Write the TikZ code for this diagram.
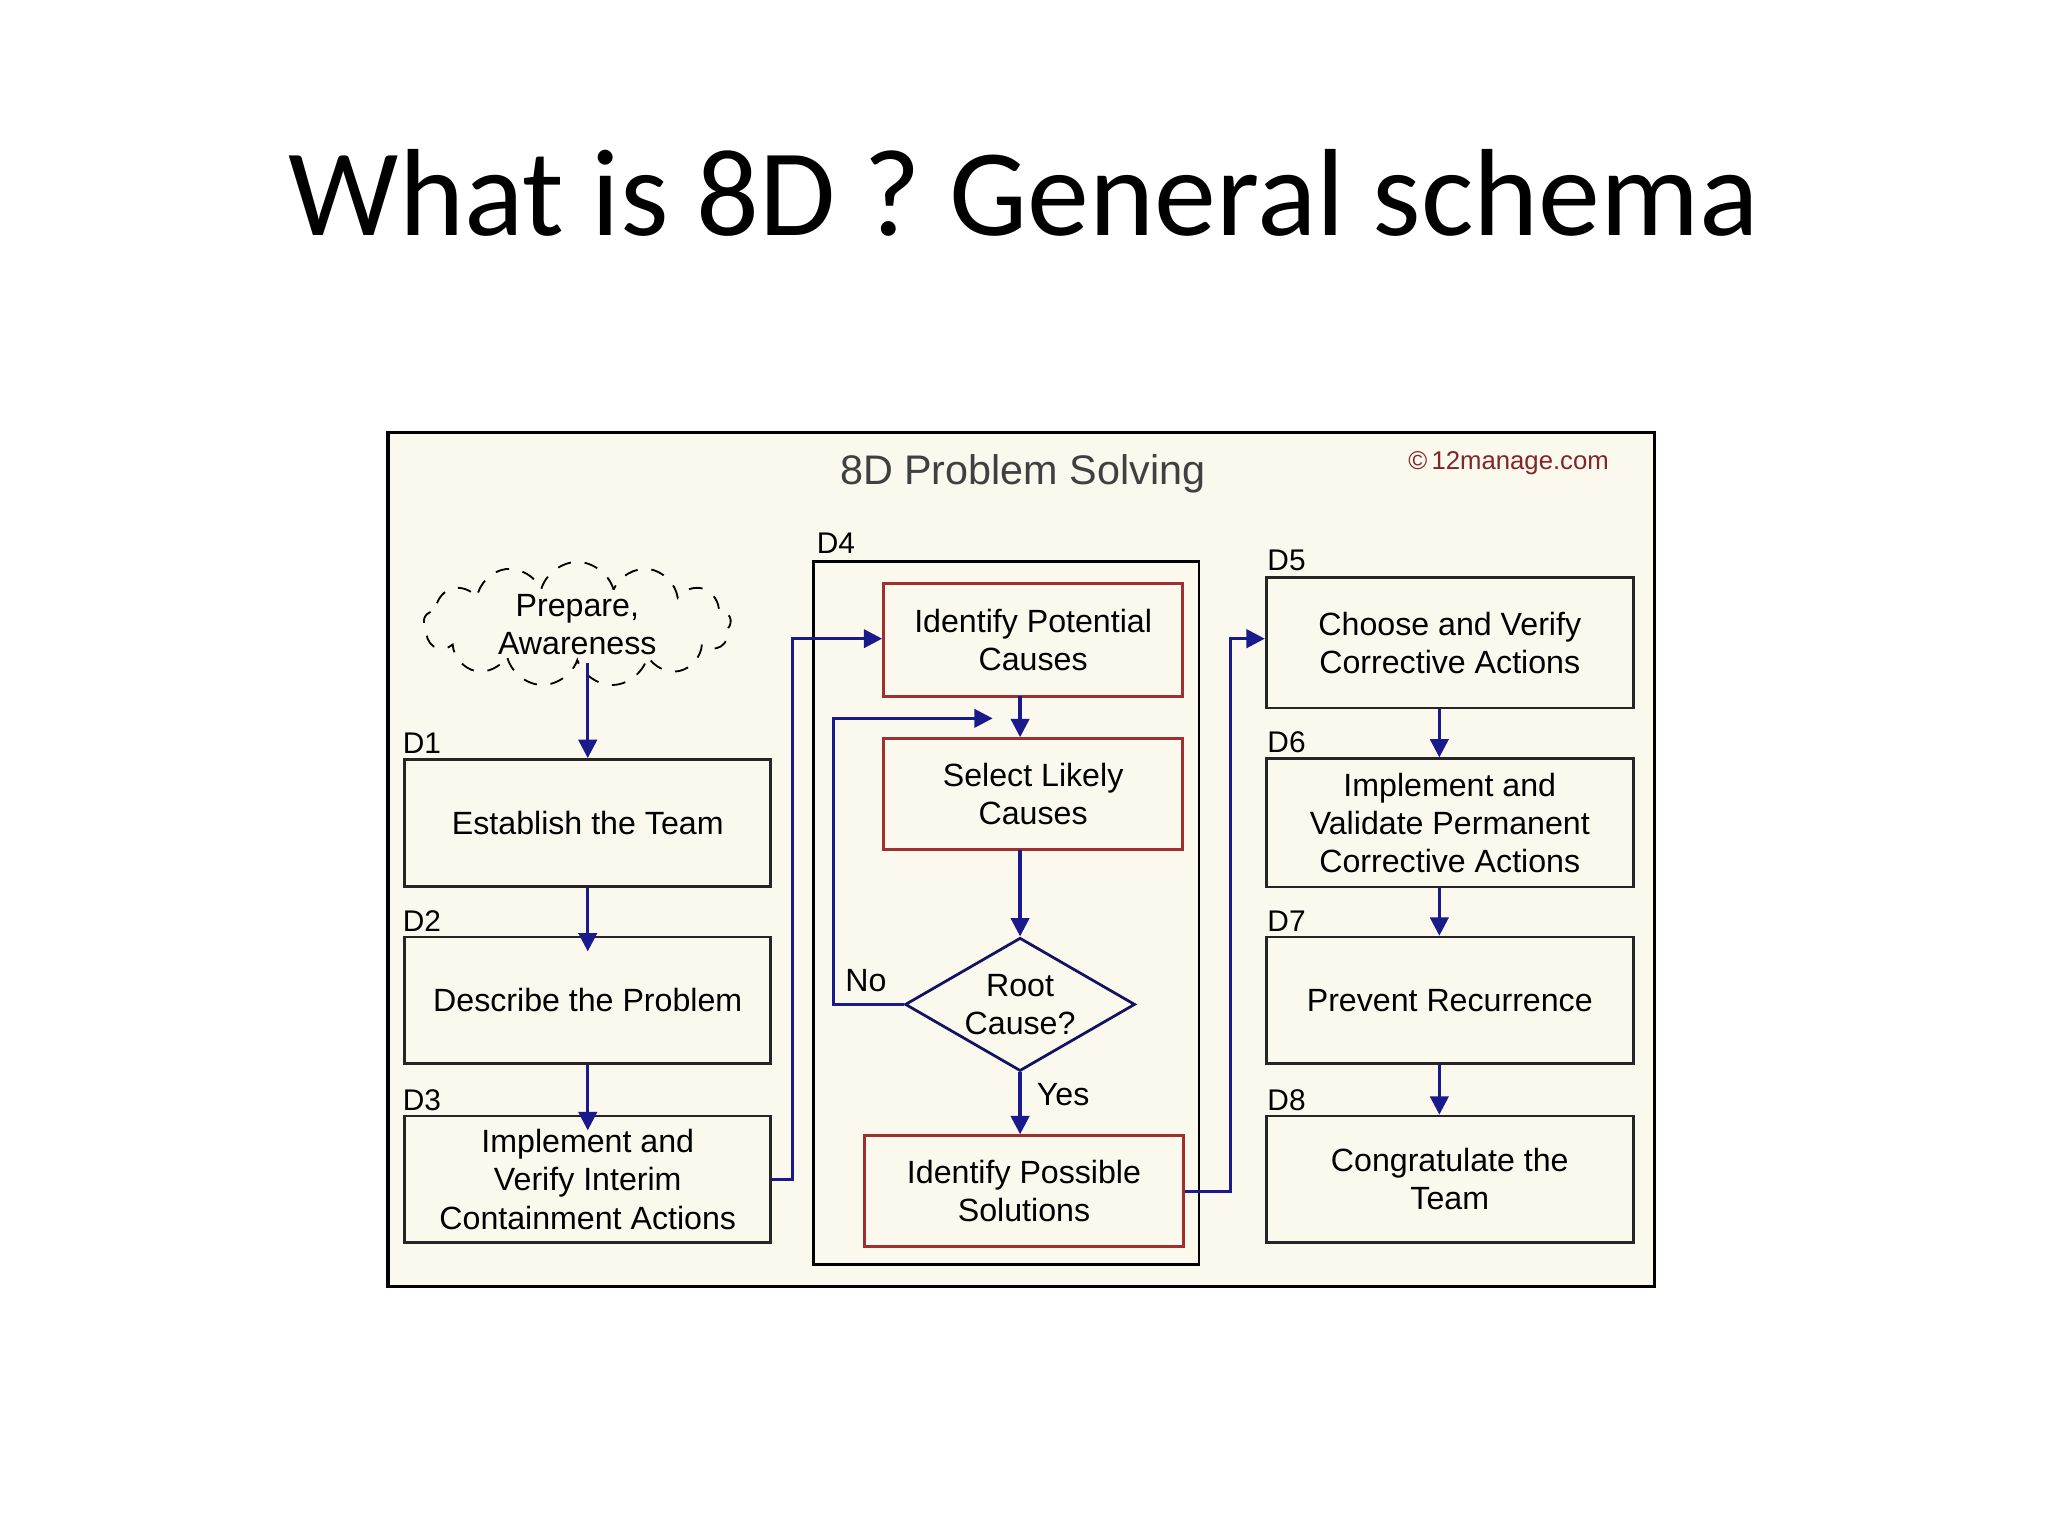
\documentclass[tikz,border=0pt]{standalone}
\usepackage{fontspec}
\setmainfont{Liberation Sans}
\newfontfamily\titlefont{Carlito}
\usetikzlibrary{shapes.geometric,shapes.symbols,arrows.meta}
\definecolor{cream}{HTML}{FBF8EE}
\definecolor{navy}{HTML}{1A1A8C}
\definecolor{boxred}{HTML}{A03030}
\begin{document}
\begin{tikzpicture}[x=0.01cm,y=-0.01cm,
  every node/.style={font=\fontsize{7}{8.3}\selectfont, inner sep=0pt},
  dbox/.style={draw=black!85, fill=cream, line width=0.6pt, align=center},
  rbox/.style={draw=boxred, fill=cream, line width=0.6pt, align=center},
  lab/.style={font=\fontsize{6.5}{7}\selectfont},
  arr/.style={draw=navy, line width=0.7pt, -{Triangle[length=4pt,width=4pt]}}]
\useasboundingbox (0,0) rectangle (1568,1176);
\fill[white] (0,0) rectangle (1568,1176);
\node[font=\titlefont\fontsize{27}{30}\selectfont] at (784,148) {What is 8D ? General schema};
\draw[fill=cream, line width=0.7pt] (297,331) rectangle (1267,985);
\node[font=\fontsize{9}{10}\selectfont, text=black!75] at (783,363) {8D Problem Solving};
\node[font=\fontsize{5.6}{6}\selectfont, text=boxred!80!black] at (1155,355) {\textcopyright\,12manage.com};
\draw[line width=0.6pt] (623,430) rectangle (918,968);
\node[lab] at (640,416) {D4};
\node (cloud) [draw, dashed, cloud, cloud puffs=13, aspect=2.6, minimum width=2.35cm, minimum height=0.85cm, align=center] at (442,478) {Prepare,\\Awareness};
\node (d1) [dbox, minimum width=2.8cm, minimum height=0.97cm] at (450,630) {Establish the Team};
\node (d2) [dbox, minimum width=2.8cm, minimum height=0.97cm] at (450,766) {Describe the Problem};
\node (d3) [dbox, minimum width=2.8cm, minimum height=0.97cm] at (450,903) {Implement and\\Verify Interim\\Containment Actions};
\node[lab] at (323,569) {D1};
\node[lab] at (323,705) {D2};
\node[lab] at (323,842) {D3};
\node (ipc) [rbox, minimum width=2.29cm, minimum height=0.87cm] at (791,490) {Identify Potential\\Causes};
\node (slc) [rbox, minimum width=2.29cm, minimum height=0.85cm] at (791,608) {Select Likely\\Causes};
\node (dia) [draw=navy!70!black, fill=cream, diamond, aspect=1.75, minimum width=1.76cm, minimum height=1.02cm, align=center, line width=0.6pt] at (781,769) {Root\\Cause?};
\node (ips) [rbox, minimum width=2.44cm, minimum height=0.85cm] at (784,912) {Identify Possible\\Solutions};
\node (d5) [dbox, minimum width=2.81cm, minimum height=1.0cm] at (1110,492) {Choose and Verify\\Corrective Actions};
\node (d6) [dbox, minimum width=2.81cm, minimum height=0.98cm] at (1110,630) {Implement and\\Validate Permanent\\Corrective Actions};
\node (d7) [dbox, minimum width=2.81cm, minimum height=0.97cm] at (1110,766) {Prevent Recurrence};
\node (d8) [dbox, minimum width=2.81cm, minimum height=0.97cm] at (1110,903) {Congratulate the\\Team};
\node[lab] at (985,429) {D5};
\node[lab] at (985,568) {D6};
\node[lab] at (985,705) {D7};
\node[lab] at (985,842) {D8};
\draw[arr] (cloud.south -| 450,0) -- (d1.north -| 450,0);
\draw[arr] (d1.south -| 450,0) -- ([yshift=-0.12cm]d2.north -| 450,0);
\draw[arr] (d2.south -| 450,0) -- ([yshift=-0.12cm]d3.north -| 450,0);
\draw[arr] (d3.east |- 0,903) -- (607,903) -- (607,489) -- (ipc.west |- 0,489);
\draw[arr] (781,533) -- (slc.north -| 781,0);
\draw[arr] (781,651) -- (dia.north);
\draw[arr] (dia.south) -- (ips.north -| 781,0);
\draw[arr] (dia.west) -- (638,769) -- (638,550) -- (760,550);
\draw[arr] (ips.east |- 0,912) -- (942,912) -- (942,489) -- (d5.west |- 0,489);
\draw[arr] (d5.south -| 1102,0) -- (d6.north -| 1102,0);
\draw[arr] (d6.south -| 1102,0) -- (d7.north -| 1102,0);
\draw[arr] (d7.south -| 1102,0) -- (d8.north -| 1102,0);
\node[font=\fontsize{7}{8}\selectfont] at (663,751) {No};
\node[font=\fontsize{7}{8}\selectfont] at (814,838) {Yes};
\end{tikzpicture}
\end{document}
